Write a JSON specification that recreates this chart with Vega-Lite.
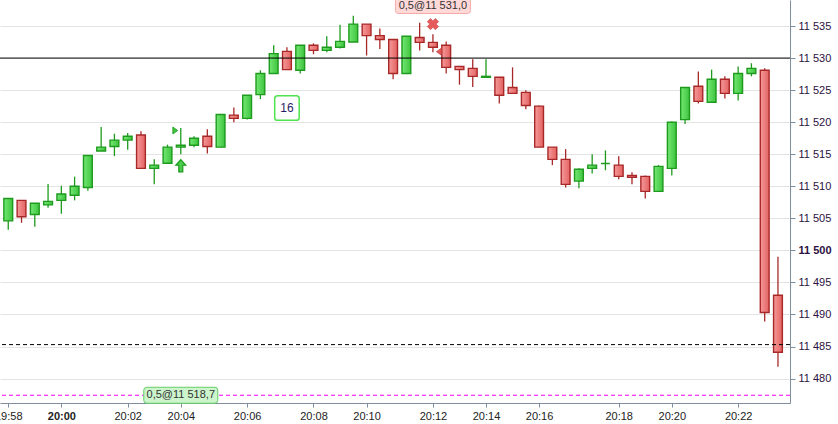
{
  "$schema": "https://vega.github.io/schema/vega-lite/v6.json",
  "width": 790,
  "height": 403,
  "autosize": {"type": "none"},
  "padding": {"left": 0, "top": 0, "right": 48, "bottom": 21},
  "background": "white",
  "config": {
    "view": {"stroke": null},
    "axis": {"labelOverlap": false, "labelFlush": false}
  },
  "datasets": {
    "candles": [
      {"i": 0, "o": 11504.6, "h": 11508.1, "l": 11503.2, "c": 11508.1},
      {"i": 1, "o": 11507.8, "h": 11507.8, "l": 11504.3, "c": 11505.25},
      {"i": 2, "o": 11505.6, "h": 11507.35, "l": 11503.7, "c": 11507.35},
      {"i": 3, "o": 11507.1, "h": 11510.35, "l": 11506.65, "c": 11507.65},
      {"i": 4, "o": 11507.8, "h": 11510.1, "l": 11505.7, "c": 11508.8},
      {"i": 5, "o": 11508.6, "h": 11511.5, "l": 11507.8, "c": 11510.0},
      {"i": 6, "o": 11509.8, "h": 11514.8, "l": 11509.3, "c": 11514.8},
      {"i": 7, "o": 11515.5, "h": 11519.25, "l": 11515.5, "c": 11516.1},
      {"i": 8, "o": 11516.2, "h": 11518.2, "l": 11514.7, "c": 11517.2},
      {"i": 9, "o": 11517.2, "h": 11518.3, "l": 11515.7, "c": 11517.8},
      {"i": 10, "o": 11518.0, "h": 11518.6, "l": 11512.8, "c": 11512.8},
      {"i": 11, "o": 11512.8, "h": 11514.2, "l": 11510.3, "c": 11513.3},
      {"i": 12, "o": 11513.6, "h": 11516.5, "l": 11513.6, "c": 11516.1},
      {"i": 13, "o": 11516.1, "h": 11519.1, "l": 11515.0, "c": 11516.4},
      {"i": 14, "o": 11516.4, "h": 11517.8, "l": 11516.1, "c": 11517.5},
      {"i": 15, "o": 11517.8, "h": 11518.9, "l": 11515.1, "c": 11516.2},
      {"i": 16, "o": 11516.1, "h": 11521.2, "l": 11516.1, "c": 11521.2},
      {"i": 17, "o": 11521.1, "h": 11522.3, "l": 11520.0, "c": 11520.6},
      {"i": 18, "o": 11520.6, "h": 11524.2, "l": 11520.4, "c": 11524.2},
      {"i": 19, "o": 11524.3, "h": 11528.1, "l": 11523.6, "c": 11527.6},
      {"i": 20, "o": 11527.6, "h": 11532.0, "l": 11527.5, "c": 11530.7},
      {"i": 21, "o": 11531.05, "h": 11531.7, "l": 11528.2, "c": 11528.2},
      {"i": 22, "o": 11528.1, "h": 11532.0, "l": 11527.6, "c": 11532.0},
      {"i": 23, "o": 11532.0, "h": 11532.3, "l": 11530.6, "c": 11531.2},
      {"i": 24, "o": 11531.2, "h": 11533.4, "l": 11530.9, "c": 11531.7},
      {"i": 25, "o": 11531.7, "h": 11535.2, "l": 11531.5, "c": 11532.6},
      {"i": 26, "o": 11532.5, "h": 11536.6, "l": 11532.5, "c": 11535.3},
      {"i": 27, "o": 11535.3, "h": 11535.3, "l": 11530.4, "c": 11533.5},
      {"i": 28, "o": 11533.5, "h": 11534.6, "l": 11531.4, "c": 11532.9},
      {"i": 29, "o": 11532.9, "h": 11532.9, "l": 11526.7, "c": 11527.6},
      {"i": 30, "o": 11527.6, "h": 11533.4, "l": 11527.5, "c": 11533.4},
      {"i": 31, "o": 11533.2, "h": 11535.5, "l": 11531.2, "c": 11532.45},
      {"i": 32, "o": 11532.45, "h": 11533.7, "l": 11530.9, "c": 11531.7},
      {"i": 33, "o": 11532.0, "h": 11532.6, "l": 11527.6, "c": 11528.55},
      {"i": 34, "o": 11528.7, "h": 11528.7, "l": 11525.85, "c": 11528.2},
      {"i": 35, "o": 11528.4, "h": 11529.8, "l": 11525.5, "c": 11527.15},
      {"i": 36, "o": 11527.0, "h": 11529.8, "l": 11527.0, "c": 11527.15},
      {"i": 37, "o": 11527.0, "h": 11527.0, "l": 11522.9, "c": 11524.2},
      {"i": 38, "o": 11525.4, "h": 11528.55, "l": 11524.5, "c": 11524.5},
      {"i": 39, "o": 11524.65, "h": 11525.0, "l": 11522.0, "c": 11522.6},
      {"i": 40, "o": 11522.5, "h": 11522.6, "l": 11516.1, "c": 11516.1},
      {"i": 41, "o": 11516.1, "h": 11516.1, "l": 11513.3, "c": 11514.2},
      {"i": 42, "o": 11514.2, "h": 11515.8, "l": 11509.8, "c": 11510.3},
      {"i": 43, "o": 11510.8, "h": 11512.8, "l": 11509.7, "c": 11512.65},
      {"i": 44, "o": 11512.8, "h": 11515.0, "l": 11512.0, "c": 11513.3},
      {"i": 45, "o": 11513.55, "h": 11515.6, "l": 11512.5, "c": 11513.55},
      {"i": 46, "o": 11513.3, "h": 11514.7, "l": 11511.1, "c": 11511.55},
      {"i": 47, "o": 11511.7, "h": 11512.2, "l": 11510.3, "c": 11511.4},
      {"i": 48, "o": 11511.55, "h": 11511.7, "l": 11508.1, "c": 11509.2},
      {"i": 49, "o": 11509.2, "h": 11513.3, "l": 11509.1, "c": 11513.1},
      {"i": 50, "o": 11512.8, "h": 11520.1, "l": 11511.7, "c": 11520.0},
      {"i": 51, "o": 11520.4, "h": 11525.4, "l": 11519.7, "c": 11525.4},
      {"i": 52, "o": 11525.6, "h": 11527.9, "l": 11522.9, "c": 11523.25},
      {"i": 53, "o": 11523.1, "h": 11528.2, "l": 11523.1, "c": 11526.7},
      {"i": 54, "o": 11526.7, "h": 11527.15, "l": 11523.7, "c": 11524.5},
      {"i": 55, "o": 11524.5, "h": 11528.7, "l": 11523.4, "c": 11527.6},
      {"i": 56, "o": 11527.6, "h": 11529.2, "l": 11527.15, "c": 11528.4},
      {"i": 57, "o": 11528.1, "h": 11528.4, "l": 11488.9, "c": 11490.3},
      {"i": 58, "o": 11493.0, "h": 11499.0, "l": 11481.85, "c": 11484.1}
    ]
  },
  "layer": [
    {
      "data": {"name": "candles"},
      "transform": [{"filter": "datum.c >= datum.o"}],
      "mark": {"type": "rule", "color": "#1e9b1e", "strokeWidth": 1.3},
      "encoding": {
        "x": {
          "field": "i", "type": "quantitative", "title": null,
          "scale": {"domain": [-0.2455, 58.53], "nice": false, "zero": false},
          "axis": {
            "orient": "bottom",
            "values": [0, 4, 9, 13, 18, 23, 27, 32, 36, 40, 46, 50, 55],
            "labelExpr": "{'0':'19:58','4':'20:00','9':'20:02','13':'20:04','18':'20:06','23':'20:08','27':'20:10','32':'20:12','36':'20:14','40':'20:16','46':'20:18','50':'20:20','55':'20:22'}[datum.value]",
            "grid": false,
            "labelFlush": false,
            "labelOverlap": false,
            "labelFont": "Liberation Sans",
            "labelFontSize": 11,
            "labelColor": "#222222",
            "labelFontWeight": {"condition": {"test": "datum.value == 4", "value": "bold"}, "value": "normal"},
            "labelPadding": 3,
            "tickSize": 4,
            "tickColor": "#7f8f9f",
            "domainColor": "#7f8f9f"
          }
        },
        "y": {
          "field": "l", "type": "quantitative", "title": null,
          "scale": {"domain": [11476.19, 11539.06], "nice": false, "zero": false},
          "axis": {
            "orient": "right",
            "values": [11480, 11485, 11490, 11495, 11500, 11505, 11510, 11515, 11520, 11525, 11530, 11535],
            "tickCount": 13,
            "labelExpr": "replace(format(datum.value, ','), ',', ' ')",
            "grid": true,
            "gridColor": "#e4e4e4",
            "labelOverlap": false,
            "labelFlush": false,
            "labelFont": "Liberation Sans",
            "labelFontSize": 11,
            "labelColor": "#2b1040",
            "labelFontWeight": {"condition": {"test": "datum.value == 11500", "value": "bold"}, "value": "normal"},
            "labelPadding": 3,
            "tickSize": 5,
            "tickColor": "#7f8f9f",
            "domainColor": "#7f8f9f"
          }
        },
        "y2": {"field": "h"}
      }
    },
    {
      "data": {"name": "candles"},
      "transform": [{"filter": "datum.c < datum.o"}],
      "mark": {"type": "rule", "color": "#a82828", "strokeWidth": 1.3},
      "encoding": {
        "x": {"field": "i", "type": "quantitative", "title": null},
        "y": {"field": "l", "type": "quantitative", "title": null},
        "y2": {"field": "h"}
      }
    },
    {
      "data": {"name": "candles"},
      "transform": [{"filter": "datum.c >= datum.o"}],
      "mark": {
        "type": "bar", "size": 8.8, "stroke": "#1e9b1e", "strokeWidth": 1.4,
        "fill": {"gradient": "linear", "x1": 0, "y1": 0, "x2": 1, "y2": 0,
          "stops": [{"offset": 0, "color": "#74e874"}, {"offset": 1, "color": "#3ec43e"}]}
      },
      "encoding": {
        "x": {"field": "i", "type": "quantitative", "title": null},
        "y": {"field": "o", "type": "quantitative", "title": null},
        "y2": {"field": "c"}
      }
    },
    {
      "data": {"name": "candles"},
      "transform": [{"filter": "datum.c < datum.o"}],
      "mark": {
        "type": "bar", "size": 8.8, "stroke": "#a82828", "strokeWidth": 1.4,
        "fill": {"gradient": "linear", "x1": 0, "y1": 0, "x2": 1, "y2": 0,
          "stops": [{"offset": 0, "color": "#f59a9a"}, {"offset": 1, "color": "#e46262"}]}
      },
      "encoding": {
        "x": {"field": "i", "type": "quantitative", "title": null},
        "y": {"field": "o", "type": "quantitative", "title": null},
        "y2": {"field": "c"}
      }
    },
    {
      "data": {"values": [{"price": 11530}]},
      "mark": {"type": "rule", "color": "#000000", "strokeWidth": 1},
      "encoding": {"y": {"field": "price", "type": "quantitative", "title": null}}
    },
    {
      "data": {"values": [{"price": 11485.3}]},
      "mark": {"type": "rule", "color": "#000000", "strokeWidth": 1, "strokeDash": [4, 3]},
      "encoding": {"y": {"field": "price", "type": "quantitative", "title": null}}
    },
    {
      "data": {"values": [{"price": 11477.4}]},
      "mark": {"type": "rule", "color": "#ff00ff", "strokeWidth": 1.2, "strokeDash": [4, 3]},
      "encoding": {"y": {"field": "price", "type": "quantitative", "title": null}}
    },
    {
      "data": {"values": [{"i": 13, "price": 11518.7}]},
      "mark": {"type": "point", "shape": "M-0.7,-1 L0.7,0 L-0.7,1 Z", "size": 49, "filled": true,
        "fill": "#3ec43e", "stroke": "#1e9b1e", "strokeWidth": 0.8, "opacity": 1, "xOffset": -5.5},
      "encoding": {
        "x": {"field": "i", "type": "quantitative", "title": null},
        "y": {"field": "price", "type": "quantitative", "title": null}
      }
    },
    {
      "data": {"values": [{"i": 32, "price": 11531.0}]},
      "mark": {"type": "point", "shape": "M0.7,-1 L-0.7,0 L0.7,1 Z", "size": 49, "filled": true,
        "fill": "#e55a5a", "stroke": "#c84444", "strokeWidth": 0.8, "opacity": 1, "xOffset": 6},
      "encoding": {
        "x": {"field": "i", "type": "quantitative", "title": null},
        "y": {"field": "price", "type": "quantitative", "title": null}
      }
    },
    {
      "data": {"values": [{"i": 13, "price": 11513.2}]},
      "mark": {"type": "point", "shape": "M0,-1.23 L1,-0.1 L0.4,-0.1 L0.4,1.23 L-0.4,1.23 L-0.4,-0.1 L-1,-0.1 Z",
        "size": 100, "filled": true, "fill": "#4ccc4c", "stroke": "#1e9b1e", "strokeWidth": 1.2, "opacity": 1},
      "encoding": {
        "x": {"field": "i", "type": "quantitative", "title": null},
        "y": {"field": "price", "type": "quantitative", "title": null}
      }
    },
    {
      "data": {"values": [{"i": 32, "price": 11535.3}]},
      "mark": {"type": "point", "shape": "cross", "angle": 45, "size": 130, "filled": true,
        "fill": "#e55a5a", "stroke": "#cc4848", "strokeWidth": 0.6, "opacity": 1},
      "encoding": {
        "x": {"field": "i", "type": "quantitative", "title": null},
        "y": {"field": "price", "type": "quantitative", "title": null}
      }
    },
    {
      "data": {"values": [{"i": 21, "price": 11522.2, "label": "16"}]},
      "layer": [
        {
          "mark": {"type": "point",
            "shape": "M-0.76,-1 H0.76 Q1,-1 1,-0.76 V0.76 Q1,1 0.76,1 H-0.76 Q-1,1 -1,0.76 V-0.76 Q-1,-1 -0.76,-1 Z",
            "size": 600, "filled": true, "fill": "#ffffff", "stroke": "#4ee44e", "strokeWidth": 1.5, "opacity": 1},
          "encoding": {
            "x": {"field": "i", "type": "quantitative", "title": null},
            "y": {"field": "price", "type": "quantitative", "title": null}
          }
        },
        {
          "mark": {"type": "text", "font": "Liberation Sans", "fontSize": 12, "color": "#2a1a66", "align": "center", "baseline": "middle"},
          "encoding": {
            "x": {"field": "i", "type": "quantitative", "title": null},
            "y": {"field": "price", "type": "quantitative", "title": null},
            "text": {"field": "label"}
          }
        }
      ]
    },
    {
      "data": {"values": [{"i": 32, "price": 11538.2, "label": "0,5@11 531,0"}]},
      "layer": [
        {
          "mark": {"type": "point",
            "shape": "M-0.92,-0.2133 H0.92 Q1,-0.2133 1,-0.1333 V0.1333 Q1,0.2133 0.92,0.2133 H-0.92 Q-1,0.2133 -1,0.1333 V-0.1333 Q-1,-0.2133 -0.92,-0.2133 Z",
            "size": 5625, "filled": true, "fill": "#ffd8d8", "stroke": "#f5aaaa", "strokeWidth": 1, "opacity": 1},
          "encoding": {
            "x": {"field": "i", "type": "quantitative", "title": null},
            "y": {"field": "price", "type": "quantitative", "title": null}
          }
        },
        {
          "mark": {"type": "text", "font": "Liberation Sans", "fontSize": 11, "color": "#333333", "align": "center", "baseline": "middle"},
          "encoding": {
            "x": {"field": "i", "type": "quantitative", "title": null},
            "y": {"field": "price", "type": "quantitative", "title": null},
            "text": {"field": "label"}
          }
        }
      ]
    },
    {
      "data": {"values": [{"i": 13, "price": 11477.4, "label": "0,5@11 518,7"}]},
      "layer": [
        {
          "mark": {"type": "point",
            "shape": "M-0.92,-0.2162 H0.92 Q1,-0.2162 1,-0.1362 V0.1362 Q1,0.2162 0.92,0.2162 H-0.92 Q-1,0.2162 -1,0.1362 V-0.1362 Q-1,-0.2162 -0.92,-0.2162 Z",
            "size": 5476, "filled": true, "fill": "#ccf5cc", "stroke": "#66cc66", "strokeWidth": 1, "opacity": 1},
          "encoding": {
            "x": {"field": "i", "type": "quantitative", "title": null},
            "y": {"field": "price", "type": "quantitative", "title": null}
          }
        },
        {
          "mark": {"type": "text", "font": "Liberation Sans", "fontSize": 11, "color": "#333333", "align": "center", "baseline": "middle"},
          "encoding": {
            "x": {"field": "i", "type": "quantitative", "title": null},
            "y": {"field": "price", "type": "quantitative", "title": null},
            "text": {"field": "label"}
          }
        }
      ]
    }
  ]
}
